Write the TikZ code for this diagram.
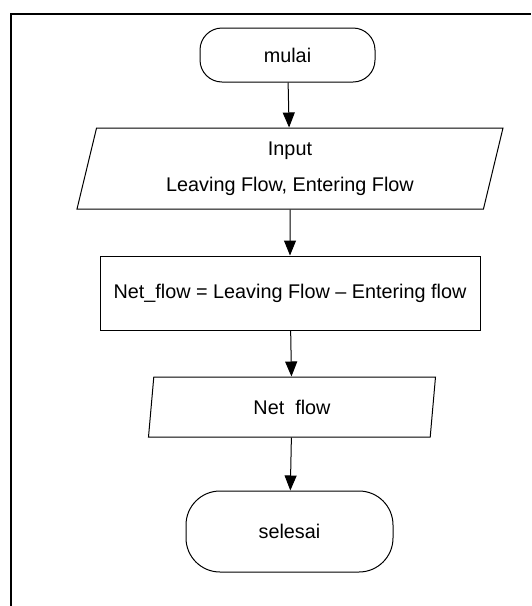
\documentclass[tikz,border=0pt]{standalone}
\usepackage{fontspec}
\setmainfont{Liberation Sans}
\usepackage{tikz}
\usetikzlibrary{arrows.meta,shapes.geometric,positioning}
\tikzset{FC style/.style={x=0.5pt,y=-0.5pt,>={Triangle[length=7.5pt,width=6pt]},font=\fontsize{9.9}{18}\selectfont,line width=0.5pt},
	terminal/.style={draw,rounded corners=#1,minimum width=87.5pt,minimum height=27pt,align=center},
	io/.style={draw,trapezium,trapezium left angle=70,trapezium right angle=110,trapezium stretches body,align=center,inner sep=0pt},
	process/.style={draw,rectangle,minimum width=190pt,minimum height=37pt,align=center}}

\begin{document}
\begin{tikzpicture}[FC style]
		\useasboundingbox (0,0) rectangle (531,606);
		
		\draw[line width=1pt] (11,606) -- (11,14) -- (531,14);
		
		\node[terminal=11pt] (mulai) at (287.5,55) {mulai};
		\node[io,minimum width=213pt,minimum height=40.5pt] (input) at (290,168.5) {Input\\Leaving Flow, Entering Flow};
		\node[process] (hitung) at (290,293) {Net\_flow = Leaving Flow -- Entering flow};
		\node[io,minimum width=143.5pt,minimum height=30pt] (output) at (292,407) {Net\ \ flow};
		\node[terminal=17pt,minimum width=103.5pt,minimum height=40.5pt] (selesai) at (289.5,531.5) {selesai};
		
		\draw[->] (mulai) -- (input);
		\draw[->] (input) -- (hitung);
		\draw[->] (hitung) -- (output);
		\draw[->] (output) -- (selesai);
		
	\end{tikzpicture}
\end{document}
